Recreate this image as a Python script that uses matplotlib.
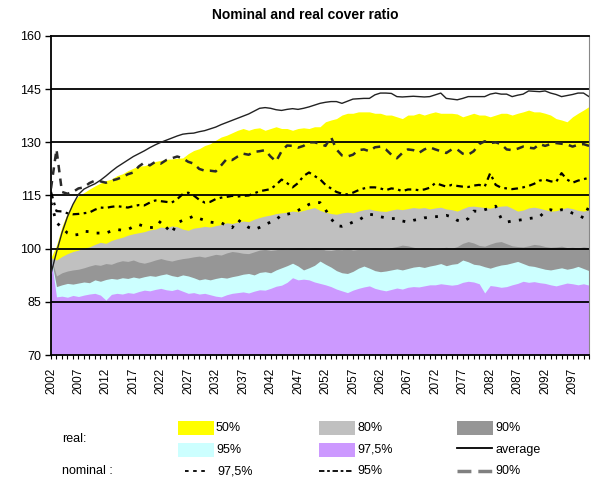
import matplotlib
matplotlib.use("Agg")
import matplotlib.pyplot as plt
from matplotlib.patches import Rectangle
from matplotlib.lines import Line2D

years = list(range(2002, 2101))

# real cover ratio, fan chart band tops
real_50 = [97.5, 101.0, 106.3, 110.1, 113.0, 114.9, 115.8, 116.8, 117.7, 118.5,
           119.2, 119.6, 120.6, 121.1, 122.0, 122.7, 123.3, 123.4, 123.9, 124.6,
           124.9, 125.2, 125.3, 125.5, 125.6, 126.8, 127.7, 128.2, 129.1, 129.6,
           130.6, 131.5, 132.0, 132.7, 133.4, 133.9, 133.4, 133.9, 134.1, 133.4,
           133.9, 134.4, 133.9, 133.9, 133.4, 133.9, 134.1, 133.9, 134.4, 134.4,
           135.8, 136.3, 136.7, 137.7, 138.2, 138.2, 138.6, 138.6, 138.6, 138.2,
           138.2, 137.7, 137.7, 137.2, 136.7, 137.7, 137.7, 138.2, 137.7, 138.2,
           138.6, 138.2, 138.2, 138.2, 138.0, 137.2, 137.7, 138.2, 137.7, 137.7,
           137.2, 137.7, 138.2, 138.2, 137.7, 138.2, 138.6, 139.1, 138.6, 138.6,
           138.2, 137.7, 136.7, 136.3, 135.8, 137.2, 138.2, 139.1, 140.1]
real_80 = [97.5, 96.8, 97.8, 98.6, 99.2, 99.6, 100.2, 100.5, 101.2, 101.8,
           101.5, 102.3, 102.8, 103.2, 103.8, 104.2, 104.5, 104.8, 105.3, 105.5,
           106.1, 105.9, 106.4, 106.2, 105.5, 105.2, 105.8, 106.0, 106.3, 106.1,
           106.5, 106.8, 107.3, 107.1, 107.5, 107.8, 107.6, 108.3, 108.8, 109.2,
           109.5, 109.9, 110.1, 110.3, 110.6, 110.4, 110.8, 111.2, 111.6, 110.8,
           110.3, 109.9, 109.7, 110.1, 110.3, 110.1, 110.6, 111.0, 111.2, 110.8,
           110.6, 110.5, 110.9, 111.2, 111.0, 111.3, 111.6, 111.4, 111.6, 111.2,
           111.5, 111.7, 111.2, 111.0, 110.6, 111.3, 111.9, 112.0, 111.8, 111.6,
           111.4, 111.8, 112.0, 112.1, 111.4, 110.6, 110.9, 111.5, 111.7, 111.4,
           111.0, 110.6, 110.7, 111.2, 111.6, 111.3, 110.8, 110.6, 110.9]
real_90 = [97.5, 92.3, 93.2, 93.7, 94.0, 94.2, 94.6, 95.1, 95.5, 95.3,
           95.8, 95.6, 96.2, 96.6, 96.4, 96.8, 96.2, 95.9, 96.3, 96.8,
           97.2, 96.8, 96.5, 96.9, 97.2, 97.4, 97.7, 97.9, 97.6, 98.0,
           98.4, 98.2, 98.8, 99.2, 99.0, 98.7, 98.6, 99.1, 99.6, 99.8,
           99.5, 99.7, 100.0, 99.8, 100.1, 100.3, 100.2, 100.0, 100.3, 100.1,
           99.6, 99.5, 99.8, 99.7, 100.0, 99.6, 99.8, 100.1, 99.9, 100.2,
           100.0, 99.8, 100.3, 100.6, 101.0, 100.8, 100.4, 100.1, 100.3, 100.2,
           99.9, 100.2, 100.4, 100.1, 100.6, 101.5, 102.0, 101.6, 100.9, 100.7,
           101.3, 101.8, 102.0, 101.4, 100.8, 100.6, 100.5, 100.8, 101.2, 101.0,
           100.6, 100.4, 100.5, 100.7, 100.3, 100.4, 100.2, 100.5, 100.3]
real_95 = [97.5, 89.3, 89.8, 90.2, 90.0, 90.3, 90.6, 90.4, 91.2, 90.8,
           91.3, 91.6, 91.4, 91.8, 91.6, 92.0, 91.7, 92.1, 92.4, 92.2,
           92.6, 92.9, 92.4, 92.1, 92.6, 92.3, 91.8, 91.2, 91.5, 91.2,
           91.6, 91.9, 91.7, 92.1, 92.4, 92.8, 93.0, 92.6, 93.3, 93.5,
           93.2, 94.0, 94.6, 95.2, 95.9, 95.1, 94.0, 94.6, 95.3, 96.5,
           95.6, 94.8, 93.8, 93.2, 93.0, 93.6, 94.5, 95.1, 94.5, 93.8,
           93.5, 93.7, 94.0, 94.3, 94.0, 94.4, 94.8, 95.0, 94.7, 95.1,
           95.4, 95.8, 95.2, 95.6, 95.8, 96.8, 96.3, 95.6, 95.4, 94.9,
           94.5, 95.0, 95.4, 95.6, 96.0, 96.4, 95.8, 95.2, 95.0, 94.6,
           94.2, 94.0, 94.3, 94.6, 94.2, 94.5, 95.0, 94.4, 93.8]
real_975 = [97.5, 86.4, 86.6, 86.3, 86.8, 86.5, 86.9, 87.2, 87.4, 86.9,
            85.5, 87.1, 87.4, 87.2, 87.6, 87.4, 87.9, 88.3, 88.1, 88.5,
            88.8, 88.4, 88.2, 88.6, 88.0, 87.4, 87.6, 87.2, 87.4, 87.0,
            86.6, 86.4, 87.0, 87.4, 87.6, 87.8, 87.5, 88.0, 88.4, 88.3,
            88.8, 89.4, 89.7, 90.5, 91.8, 91.2, 91.4, 91.2, 90.6, 90.2,
            89.8, 89.3, 88.6, 88.1, 87.6, 88.3, 88.8, 89.2, 89.5, 88.8,
            88.4, 88.1, 88.5, 88.9, 88.6, 89.1, 89.3, 89.2, 89.5, 89.8,
            89.8, 90.1, 89.9, 89.7, 89.9, 90.5, 90.8, 90.6, 90.1, 87.5,
            89.6, 89.4, 89.1, 89.3, 89.8, 90.2, 90.8, 90.5, 90.7, 90.4,
            90.2, 89.8, 89.5, 89.9, 90.3, 90.1, 89.8, 90.1, 89.7]
real_avg = [93.0, 99.0, 104.5, 109.0, 112.5, 115.3, 116.8, 117.6, 118.3, 119.3,
            120.5, 121.8, 123.0, 124.0, 125.0, 126.0, 126.8, 127.6, 128.5, 129.3,
            130.0, 130.6, 131.2, 131.8, 132.3, 132.5, 132.6, 133.0, 133.3, 133.8,
            134.3, 135.0, 135.6, 136.2, 136.8, 137.4, 138.0, 138.8, 139.6, 139.8,
            139.6, 139.2, 139.0, 139.3, 139.5, 139.3, 139.6, 140.0, 140.5, 141.0,
            141.3, 141.5, 141.5, 141.0, 141.6, 142.2, 142.3, 142.4, 142.4, 143.4,
            143.9, 143.9, 143.8, 142.9, 142.8, 142.9, 143.0, 142.9, 142.8, 142.9,
            143.4, 143.9, 142.4, 142.2, 142.0, 142.4, 142.9, 142.9, 142.9, 142.9,
            143.6, 143.9, 143.6, 143.6, 142.9, 143.3, 143.6, 144.5, 144.4, 144.3,
            144.5, 143.9, 143.5, 142.9, 143.2, 143.5, 143.9, 143.9, 142.9]

# nominal cover ratio
nom_90 = [117.0, 128.0, 116.0, 115.5, 116.0, 117.0, 117.3, 118.5, 119.2, 119.0,
          118.6, 119.2, 119.6, 120.2, 121.0, 121.5, 123.2, 124.3, 123.5, 124.5,
          124.0, 125.0, 125.5, 126.0, 125.5, 124.5, 124.0, 122.5, 122.0, 122.0,
          121.8, 123.5, 125.3, 125.0, 126.0, 126.8, 126.5, 127.3, 127.5, 127.8,
          126.0, 124.6, 127.5, 129.1, 129.0, 128.5, 129.0, 130.0, 130.0, 129.6,
          129.0, 131.5, 128.0, 126.3, 126.0, 126.5, 127.8, 128.0, 127.5, 128.6,
          128.8, 128.0, 126.5, 125.5, 127.0, 128.0, 127.8, 127.0, 128.0, 128.6,
          128.0, 127.5, 127.0, 128.0, 128.0, 126.8, 126.5, 127.5, 129.5, 130.3,
          129.8, 130.0, 129.5, 128.0, 127.8, 128.2, 128.8, 128.5, 128.3, 129.5,
          129.0, 129.5, 129.8, 129.6, 129.4, 128.8, 129.3, 129.5, 129.0]
nom_95 = [116.0, 110.6, 110.5, 110.0, 109.7, 109.8, 110.0, 110.2, 111.0, 111.6,
          111.5, 111.8, 112.0, 111.8, 111.6, 112.0, 112.3, 112.2, 113.0, 113.6,
          113.4, 113.2, 113.0, 114.0, 115.4, 115.8, 115.0, 113.8, 113.0, 113.2,
          114.0, 114.4, 114.6, 114.9, 114.7, 114.9, 115.0, 115.6, 116.2, 116.5,
          116.8, 118.0, 119.5, 118.5, 117.3, 118.5, 120.5, 121.5, 120.5, 119.6,
          118.0, 117.0, 116.0, 115.5, 115.3, 115.8, 116.5, 117.0, 117.3, 117.3,
          117.0, 116.5, 117.0, 116.8, 116.2, 116.7, 116.7, 116.5, 116.7, 117.2,
          118.5, 118.0, 117.5, 118.0, 117.7, 117.5, 117.4, 117.8, 118.0, 117.5,
          121.3, 118.0, 117.2, 117.0, 116.8, 117.0, 117.3, 117.7, 118.3, 119.2,
          119.5, 119.0, 118.8, 121.3, 119.5, 118.6, 119.2, 119.6, 120.0]
nom_975 = [113.0, 107.3, 106.0, 104.4, 103.8, 104.0, 104.9, 104.8, 104.4, 104.4,
           104.4, 105.0, 105.4, 105.2, 105.4, 106.2, 106.8, 106.3, 106.0, 105.9,
           107.8, 106.0, 104.4, 107.3, 108.0, 108.5, 109.2, 108.5, 108.0, 107.5,
           107.3, 107.3, 106.5, 105.9, 108.2, 107.0, 106.0, 105.4, 106.0, 106.8,
           107.5, 108.2, 109.5, 109.7, 110.1, 110.8, 111.6, 112.5, 113.0, 113.0,
           111.0, 108.5, 106.5, 106.3, 106.8, 107.5, 108.0, 109.0, 109.7, 109.5,
           109.0, 108.7, 108.5, 108.5, 107.8, 107.5, 108.0, 108.3, 108.7, 108.8,
           109.0, 109.2, 109.4, 109.0, 108.0, 107.6, 108.5, 110.6, 110.5, 111.0,
           111.4, 112.0, 108.5, 107.5, 107.8, 108.0, 108.2, 108.5, 108.7, 109.0,
           110.5, 111.0, 110.5, 111.0, 110.8, 110.0, 109.5, 108.7, 112.0]

label_years = list(range(2002, 2101, 5))
y_ticks = [70, 85, 100, 115, 130, 145, 160]

c_yellow = "#ffff00"
c_lgray = "#c0c0c0"
c_dgray = "#969696"
c_cyan = "#ccffff"
c_purple = "#cc99ff"
fam = ["Liberation Sans", "DejaVu Sans"]

fig = plt.figure(figsize=(5.91, 4.84), dpi=100)
ax = fig.add_axes([51 / 591, 1 - 355 / 484, 538 / 591, 319 / 484])

for top, col in [(real_50, c_yellow), (real_80, c_lgray), (real_90, c_dgray),
                 (real_95, c_cyan), (real_975, c_purple)]:
    ax.fill_between(years, 70, top, color=col, lw=0, zorder=1)

for yv in y_ticks[1:-1]:
    ax.axhline(yv, color="black", lw=1.3, zorder=2)

ax.plot(years, nom_975, color="black", lw=2, dashes=(1, 3), zorder=3)
ax.plot(years, nom_95, color="black", lw=1.6, dashes=(3, 2, 1.2, 2), zorder=3)
ax.plot(years, nom_90, color="#2a2a2a", lw=1.8, dashes=(3, 2.5), zorder=3)
ax.plot(years, real_avg, color="#222222", lw=1, zorder=4)

ax.set_xlim(2002, 2100)
ax.set_ylim(70, 160)
ax.set_yticks(y_ticks)
ax.set_yticklabels([str(v) for v in y_ticks], fontsize=9, family=fam)
ax.set_xticks(years, minor=True)
ax.set_xticks(label_years)
ax.set_xticklabels([str(v) for v in label_years], rotation=90, fontsize=8.5, family=fam)
ax.tick_params(axis="x", which="both", length=3, width=0.8, direction="out", pad=6)
ax.tick_params(axis="y", length=4, width=1, direction="out", pad=3)
for s in ["left", "bottom", "top"]:
    ax.spines[s].set_linewidth(1.3)
ax.spines["right"].set_color("#888888")

fig.text(0.516, 1 - 15 / 484, "Nominal and real cover ratio", ha="center", va="center",
         fontsize=10, fontweight="bold", family=fam)

# legend drawn in pixel space
lax = fig.add_axes([0, 0, 1, 1])
lax.set_xlim(0, 591)
lax.set_ylim(484, 0)
lax.axis("off")
lax.patch.set_alpha(0)

lt = dict(fontsize=9, family=fam, va="center", ha="left")
lax.text(62, 439, "real:", **lt)
lax.text(62, 471, "nominal :", **lt)
for (x0, yc, col, lab) in [(178, 428, c_yellow, "50%"), (319, 428, c_lgray, "80%"),
                           (457, 428, c_dgray, "90%"), (178, 450, c_cyan, "95%"),
                           (319, 450, c_purple, "97,5%")]:
    lax.add_patch(Rectangle((x0, yc - 7), 36, 14, color=col, lw=0))
    lax.text(x0 + 38, yc, lab, **lt)
lax.add_line(Line2D([457, 492], [448, 448], color="black", lw=1.3))
lax.text(495, 450, "average", **lt)
lax.add_line(Line2D([185, 208], [471, 471], color="black", lw=1.3, dashes=(2, 2.5)))
lax.text(217, 471, "97,5%", **lt)
lax.add_line(Line2D([319, 353], [471, 471], color="black", lw=1.3, dashes=(3, 1.5, 1.5, 1.5)))
lax.text(357, 471, "95%", **lt)
lax.add_line(Line2D([457, 492], [471, 471], color="#808080", lw=2.5, dashes=(4, 2)))
lax.text(495, 471, "90%", **lt)

fig.savefig("out.png", dpi=100)
